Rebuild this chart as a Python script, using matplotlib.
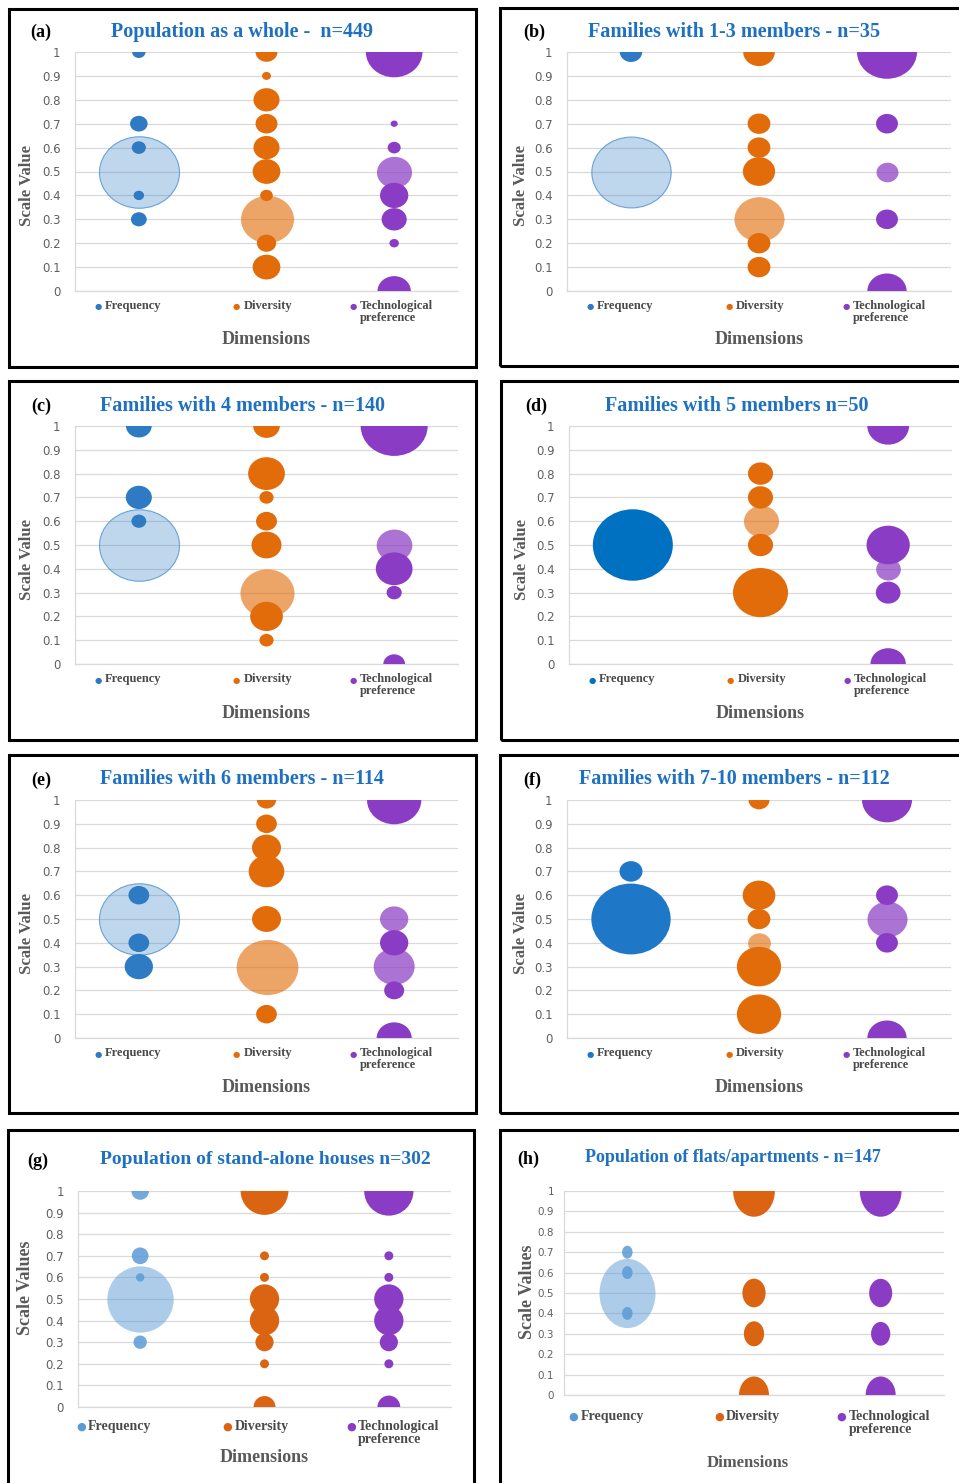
import numpy as np
import matplotlib
matplotlib.use("Agg")
import matplotlib.pyplot as plt
from matplotlib.path import Path
from matplotlib.transforms import Affine2D
from matplotlib.patches import Rectangle
from matplotlib.colors import to_rgba

dimensions = ["Frequency", "Diversity", "Technological\npreference"]
tags = ["(a)", "(b)", "(c)", "(d)", "(e)", "(f)", "(g)", "(h)"]
titles = [
    "Population as a whole -  n=449",
    "Families with 1-3 members - n=35",
    "Families with 4 members - n=140",
    "Families with 5 members n=50",
    "Families with 6 members - n=114",
    "Families with 7-10 members - n=112",
    "Population of stand-alone houses n=302",
    "Population of flats/apartments - n=147",
]
y_ticks = [0, 0.1, 0.2, 0.3, 0.4, 0.5, 0.6, 0.7, 0.8, 0.9, 1]
y_tick_labels = ["0", "0.1", "0.2", "0.3", "0.4", "0.5", "0.6", "0.7", "0.8", "0.9", "1"]

# scale values and bubble sizes (area units) per dimension
a_freq_val = [1.0, 0.7, 0.6, 0.5, 0.4, 0.3]
a_freq_size = [1.8, 3.1, 2.0, 64, 1.1, 2.5]
a_div_val = [1.0, 0.9, 0.8, 0.7, 0.6, 0.5, 0.4, 0.3, 0.2, 0.1]
a_div_size = [4.8, 0.8, 6.8, 4.8, 6.8, 7.7, 1.6, 28.1, 3.7, 7.7]
a_tech_val = [1.0, 0.7, 0.6, 0.5, 0.4, 0.3, 0.2, 0.0]
a_tech_size = [32.1, 0.5, 1.7, 12.3, 8.0, 6.3, 0.9, 11.1]
a_light = [[0.5], [0.3], [0.5]]

b_freq_val = [1.0, 0.5]
b_freq_size = [5.0, 62.9]
b_div_val = [1.0, 0.7, 0.6, 0.5, 0.3, 0.2, 0.1]
b_div_size = [10.0, 5.2, 5.2, 10.4, 25.0, 5.2, 5.2]
b_tech_val = [1.0, 0.7, 0.5, 0.3, 0.0]
b_tech_size = [36.0, 4.8, 4.8, 4.8, 15.4]
b_light = [[0.5], [0.3], [0.5]]

c_freq_val = [1.0, 0.7, 0.6, 0.5]
c_freq_size = [6.6, 6.8, 2.2, 64]
c_div_val = [1.0, 0.8, 0.7, 0.6, 0.5, 0.3, 0.2, 0.1]
c_div_size = [7.1, 13.5, 2.0, 4.4, 9.0, 29.2, 10.7, 2.0]
c_tech_val = [1.0, 0.5, 0.4, 0.3, 0.0]
c_tech_size = [44.9, 12.7, 13.5, 2.3, 4.7]
c_light = [[0.5], [0.3], [0.5]]

d_freq_val = [0.5]
d_freq_size = [64]
d_div_val = [0.8, 0.7, 0.6, 0.5, 0.3]
d_div_size = [6.3, 6.3, 12.3, 6.3, 30.3]
d_tech_val = [1.0, 0.5, 0.4, 0.3, 0.0]
d_tech_size = [17.4, 18.7, 6.1, 6.1, 12.5]
d_light = [[], [0.6], [0.4]]

e_freq_val = [0.6, 0.5, 0.4, 0.3]
e_freq_size = [4.3, 64, 4.3, 8.0]
e_div_val = [1.0, 0.9, 0.8, 0.7, 0.5, 0.3, 0.1]
e_div_size = [3.7, 4.3, 8.4, 12.7, 8.4, 38.1, 4.3]
e_tech_val = [1.0, 0.5, 0.4, 0.3, 0.2, 0.0]
e_tech_size = [29.5, 8.0, 8.0, 16.8, 4.0, 12.3]
e_light = [[0.5], [0.3], [0.5, 0.3]]

f_freq_val = [0.7, 0.5]
f_freq_size = [5.3, 62.9]
f_div_val = [1.0, 0.6, 0.5, 0.4, 0.3, 0.1]
f_div_size = [4.4, 10.7, 5.2, 5.2, 19.6, 19.6]
f_tech_val = [1.0, 0.6, 0.5, 0.4, 0.0]
f_tech_size = [25.0, 4.8, 16.0, 4.8, 15.4]
f_light = [[], [0.4], [0.5]]

g_freq_val = [1.0, 0.7, 0.6, 0.5, 0.3]
g_freq_size = [3.1, 2.8, 0.7, 44.0, 1.8]
g_div_val = [1.0, 0.7, 0.6, 0.5, 0.4, 0.3, 0.2, 0.0]
g_div_size = [22.8, 0.8, 0.8, 8.6, 8.6, 3.3, 0.8, 4.8]
g_tech_val = [1.0, 0.7, 0.6, 0.5, 0.4, 0.3, 0.2, 0.0]
g_tech_size = [24.3, 0.8, 0.8, 8.6, 8.6, 3.3, 0.8, 5.2]
g_light = [[0.5], [], []]

h_freq_val = [0.7, 0.6, 0.5, 0.4]
h_freq_size = [1.1, 1.1, 31.4, 1.1]
h_div_val = [1.0, 0.5, 0.3, 0.0]
h_div_size = [17.4, 5.4, 4.1, 9.0]
h_tech_val = [1.0, 0.5, 0.3, 0.0]
h_tech_size = [17.4, 5.3, 3.7, 9.0]
h_light = [[0.5], [], []]

panels = [
    [(a_freq_val, a_freq_size), (a_div_val, a_div_size), (a_tech_val, a_tech_size), a_light],
    [(b_freq_val, b_freq_size), (b_div_val, b_div_size), (b_tech_val, b_tech_size), b_light],
    [(c_freq_val, c_freq_size), (c_div_val, c_div_size), (c_tech_val, c_tech_size), c_light],
    [(d_freq_val, d_freq_size), (d_div_val, d_div_size), (d_tech_val, d_tech_size), d_light],
    [(e_freq_val, e_freq_size), (e_div_val, e_div_size), (e_tech_val, e_tech_size), e_light],
    [(f_freq_val, f_freq_size), (f_div_val, f_div_size), (f_tech_val, f_tech_size), f_light],
    [(g_freq_val, g_freq_size), (g_div_val, g_div_size), (g_tech_val, g_tech_size), g_light],
    [(h_freq_val, h_freq_size), (h_div_val, h_div_size), (h_tech_val, h_tech_size), h_light],
]

# ---- layout, in pixels ----
W, H = 959, 1483
plot_boxes = [(75, 52, 458, 291), (567, 52, 951, 291),
              (75, 426, 458, 664), (569, 426, 952, 664),
              (75, 800, 458, 1038), (567, 800, 951, 1038),
              (78, 1191, 451, 1407), (564, 1191, 944, 1395)]
frames = [(8.5, 8.5, 476, 366.5), (499.5, 8, 990, 366),
          (8.5, 381, 476, 739.5), (501, 381, 990, 739.7),
          (8.5, 755.3, 476, 1113), (500, 755, 990, 1113),
          (8, 1130.3, 474, 1520), (500, 1130, 990, 1520)]
tag_xy = [(41, 32), (534, 32), (41, 406), (536, 406),
          (41, 780), (532, 780), (38, 1161), (528, 1159)]
title_xy = [(242, 32), (734, 32), (242, 406), (737, 406),
            (242, 779), (734, 779), (265, 1160), (733, 1157)]
ylabel_xy = [(27, 185), (521, 186), (27, 559), (522, 559),
             (27, 933), (521, 933), (26, 1288), (527, 1292)]

BLUE, ORANGE, PURPLE = "#2E7BC4", "#E36C0A", "#8A3DC4"
TITLE_BLUE = "#1E70C1"
GREY_TXT = "#595959"
SERIF = "Liberation Serif"

fig = plt.figure(figsize=(W / 100, H / 100), dpi=100)


def fx(x):
    return x / W


def fy(y):
    return 1 - y / H


def bubble_marker(aspect):
    return Path.unit_circle().transformed(Affine2D().scale(aspect, 1.0))


for k, (freq, div, tech, light) in enumerate(panels):
    l, t, r, b = plot_boxes[k]
    lower = k >= 6
    aspect = [1.12] * 6 + [1.0, 0.81]
    aspect = aspect[k]
    ax = fig.add_axes([fx(l), fy(b), (r - l) / W, (b - t) / H])
    ax.set_xlim(0, 3)
    ax.set_ylim(0, 1)
    ax.set_xticks([])
    ax.set_yticks(y_ticks)
    ax.set_yticklabels(y_tick_labels)
    ax.yaxis.grid(True, color="#D9D9D9", lw=0.9)
    ax.set_axisbelow(True)
    for side in ["top", "right"]:
        ax.spines[side].set_visible(False)
    for side in ["left", "bottom"]:
        ax.spines[side].set_color("#D9D9D9")
        ax.spines[side].set_linewidth(0.9)
    pad = [10.5] * 6 + [10, 7]
    ax.tick_params(axis="y", length=0, pad=pad[k], labelcolor="#606060",
                   labelsize=7.5 if k == 7 else 8.5)
    for lab in ax.get_yticklabels():
        lab.set_family("DejaVu Sans")

    marker = bubble_marker(aspect)
    if lower:
        freq_col = "#5B9BD5"
        normal = [to_rgba(freq_col, 0.85), to_rgba("#DA6411"), to_rgba(PURPLE)]
        pale = [to_rgba(freq_col, 0.5), to_rgba("#DA6411", 0.62), to_rgba(PURPLE, 0.72)]
        pale_edge = ["none", "none", "none"]
    else:
        freq_col = {3: "#0070C0", 5: "#1F77C8"}.get(k, BLUE)
        normal = [to_rgba(freq_col), to_rgba(ORANGE), to_rgba(PURPLE)]
        pale = [to_rgba(BLUE, 0.3), to_rgba(ORANGE, 0.62), to_rgba(PURPLE, 0.72)]
        pale_edge = [to_rgba("#5B9BD5", 0.9), "none", "none"]

    for i, (vals, sizes) in enumerate([freq, div, tech]):
        vals = np.array(vals, dtype=float)
        sizes = np.array(sizes, dtype=float)
        width_pt = 10 * np.sqrt(sizes) * 0.72
        s = np.maximum(width_pt, width_pt / aspect) ** 2
        is_pale = np.isin(vals, light[i])
        x = np.full(len(vals), i + 0.5)
        ax.scatter(x[is_pale], vals[is_pale], s=s[is_pale], marker=marker,
                   facecolors=[pale[i]], edgecolors=[pale_edge[i]],
                   linewidths=0.8, zorder=2)
        ax.scatter(x[~is_pale], vals[~is_pale], s=s[~is_pale], marker=marker,
                   facecolors=[normal[i]], edgecolors="none", zorder=3)

    # legend under the plot area
    cw = (r - l) / 3
    if k < 6:
        m_off, t_off, leg_y, leg_fs, dot_fs = [-41, -30, -41], 7, b + 16, 9, 6
    elif k == 6:
        m_off, t_off, leg_y, leg_fs, dot_fs = [-59, -37, -38], 7, b + 20, 10, 8
    else:
        m_off, t_off, leg_y, leg_fs, dot_fs = [-54, -35, -39], 7, b + 22, 10, 8
    for i, name in enumerate(dimensions):
        mx = l + (i + 0.5) * cw + m_off[i]
        fig.text(fx(mx), fy(leg_y), "\u25CF", color=normal[i][:3], fontsize=dot_fs,
                 ha="center", va="center", family="DejaVu Sans")
        fig.text(fx(mx + t_off), fy(leg_y - 7), name, color="#4A4A4A",
                 fontsize=leg_fs, fontweight="bold", family=SERIF,
                 ha="left", va="top", linespacing=0.95)

    dims_y = [b + 49] * 6 + [b + 51, b + 68]
    dims_x = (l + r) / 2 + (-6 if k == 7 else 0)
    fig.text(fx(dims_x), fy(dims_y[k]), "Dimensions", color=GREY_TXT,
             fontsize=13 if k != 7 else 12, fontweight="bold", family=SERIF,
             ha="center", va="center")

    ylab = "Scale Values" if lower else "Scale Value"
    fig.text(fx(ylabel_xy[k][0]), fy(ylabel_xy[k][1]), ylab, color=GREY_TXT,
             fontsize=13 if lower else 12, fontweight="bold", family=SERIF,
             rotation=90, ha="center", va="center")

    title_fs = [14.5] * 6 + [14, 13]
    fig.text(fx(title_xy[k][0]), fy(title_xy[k][1]), titles[k], color=TITLE_BLUE,
             fontsize=title_fs[k], fontweight="bold", family=SERIF,
             ha="center", va="center")
    fig.text(fx(tag_xy[k][0]), fy(tag_xy[k][1]), tags[k], color="black",
             fontsize=13, fontweight="bold", family=SERIF, ha="center", va="center")

    # panel frame
    fl, ft, fr, fb = frames[k]
    fig.add_artist(Rectangle((fx(fl), fy(fb)), (fr - fl) / W, (fb - ft) / H,
                             transform=fig.transFigure, fill=False,
                             edgecolor="black", lw=2.2, clip_on=False))

fig.savefig("out.png", dpi=100, facecolor="white")
